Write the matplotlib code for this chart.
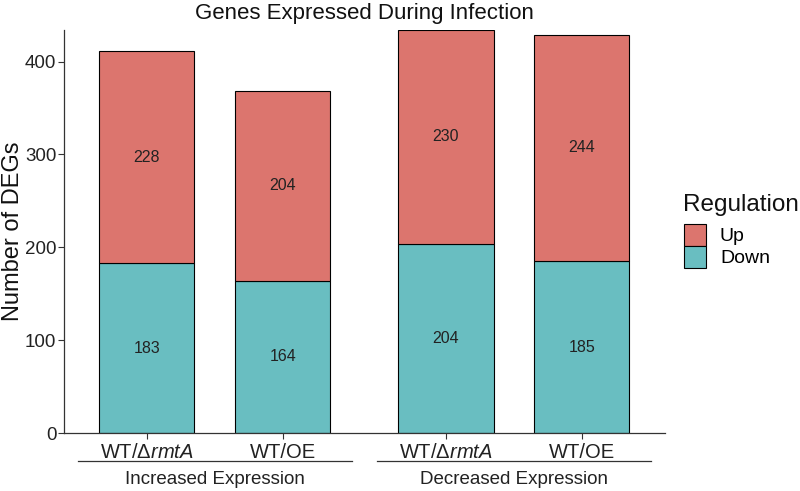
import numpy as np
import matplotlib.pyplot as plt
from matplotlib.transforms import blended_transform_factory

plt.rcParams['font.family'] = ['Liberation Sans', 'DejaVu Sans']
plt.rcParams['mathtext.fontset'] = 'custom'
plt.rcParams['mathtext.rm'] = 'Liberation Sans'
plt.rcParams['mathtext.it'] = 'Liberation Sans:italic'

# data
tick_labels = [r'WT/$\Delta\it{rmtA}$', 'WT/OE', r'WT/$\Delta\it{rmtA}$', 'WT/OE']
groups = ['Increased Expression', 'Decreased Expression']
down = [183, 164, 204, 185]
up = [228, 204, 230, 244]

x = np.array([1.0, 2.0, 3.2, 4.2])
up_color = '#DC756E'
down_color = '#69BEC1'

fig = plt.figure(figsize=(8, 4.91), dpi=100)
ax = fig.add_axes([0.08, 0.118, 0.751, 0.821])

b1 = ax.bar(x, down, width=0.7, color=down_color, edgecolor='black', linewidth=0.8, label='Down')
b2 = ax.bar(x, up, width=0.7, bottom=down, color=up_color, edgecolor='black', linewidth=0.8, label='Up')

for xi, d, u in zip(x, down, up):
    ax.text(xi, d / 2, str(d), ha='center', va='center', fontsize=11.5, color='#222222')
    ax.text(xi, d + u / 2, str(u), ha='center', va='center', fontsize=11.5, color='#222222')

ax.set_xlim(0.39, 4.81)
ax.set_ylim(0, 434)
ax.set_yticks([0, 100, 200, 300, 400])
ax.set_xticks(x)
ax.set_xticklabels(tick_labels, fontsize=14.5, color='#222222')
ax.tick_params(axis='y', labelsize=13.5, labelcolor='#222222', length=4, color='#333333', pad=1.5)
ax.tick_params(axis='x', length=4, color='#333333', pad=3)
for s in ['top', 'right']:
    ax.spines[s].set_visible(False)
for s in ['left', 'bottom']:
    ax.spines[s].set_color('#333333')
    ax.spines[s].set_linewidth(0.9)

ax.set_ylabel('Number of DEGs', fontsize=17, color='#111111')
ax.yaxis.set_label_coords(-0.066, 0.5)
ax.set_title('Genes Expressed During Infection', fontsize=16, color='#111111', pad=8)

# group lines and labels under the ticks
trans = blended_transform_factory(ax.transData, ax.transAxes)
centers = [(x[0] + x[1]) / 2, (x[2] + x[3]) / 2]
for c, g in zip(centers, groups):
    ax.plot([c - 1.01, c + 1.01], [-0.069, -0.069], color='#333333', lw=0.9,
            transform=trans, clip_on=False)
    ax.text(c, -0.115, g, transform=trans, ha='center', va='center',
            fontsize=13.5, color='#222222')

# legend: title as separate text so the gap below it can be set
fig.text(683 / 800, 1 - 205 / 491, 'Regulation', ha='left', va='center',
         fontsize=17.5, color='#111111')
handles = [b2, b1]
leg = fig.legend(handles, ['Up', 'Down'], loc='upper left',
                 bbox_to_anchor=(684 / 800, 1 - 224 / 491), frameon=False, fontsize=14,
                 handlelength=1.15, handleheight=1.35,
                 handletextpad=0.7, labelspacing=0.0, borderpad=0, borderaxespad=0)

fig.savefig('out.png', dpi=100)
